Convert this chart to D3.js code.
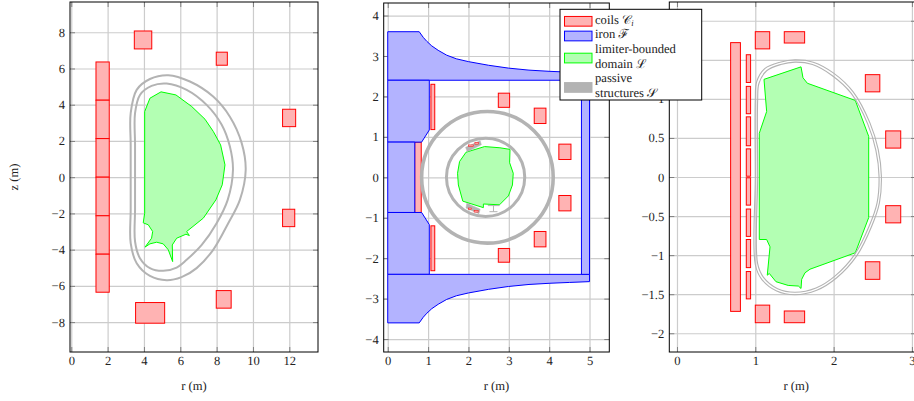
<!DOCTYPE html>
<html>
<head>
<meta charset="utf-8">
<script src="https://cdn.jsdelivr.net/npm/d3@7"></script>
<style>
  body { margin: 0; background: #fff; overflow: hidden; }
  svg { display: block; text-rendering: geometricPrecision; }
  svg text { font-family: "Liberation Serif", "Times New Roman", serif !important; fill: #222; }
</style>
</head>
<body>
<svg width="914" height="401"></svg>
<script>
// rectangles are [r1, r2, z1, z2], outlines are [r, z]

// ---- left panel
const coils1 = [
  [1.36, 2.09, 4.25, 6.36], [1.36, 2.09, 2.13, 4.25], [1.36, 2.09, 0, 2.13],
  [1.36, 2.09, -2.13, 0], [1.36, 2.09, -4.25, -2.13], [1.36, 2.09, -6.35, -4.25],
  [3.47, 4.43, 7.08, 8.07], [7.98, 8.59, 6.18, 6.9], [11.63, 12.35, 2.79, 3.75],
  [11.63, 12.3, -2.73, -1.77], [7.98, 8.8, -7.23, -6.26], [3.54, 5.14, -8.06, -6.92]
];
const vesselOuter1 = [
  [3.27, 0], [3.27, 1.8], [3.27, 3.53], [3.6, 4.82], [4.33, 5.42], [5.34, 5.63], [6.53, 5.28],
  [7.81, 4.45], [8.73, 3.34], [9.38, 1.88], [9.6, 0.4], [9.28, -1.25], [8.64, -2.54],
  [7.81, -4.01], [6.9, -5.02], [6.07, -5.52], [5.25, -5.69], [4.33, -5.45], [3.6, -4.75],
  [3.27, -3.64], [3.27, -1.8]
];
const vesselInner1 = [
  [3.51, 0], [3.51, 1.8], [3.51, 3.53], [3.78, 4.54], [4.42, 5.04], [5.25, 5.17], [6.35, 4.82],
  [7.45, 3.99], [8.28, 2.89], [8.73, 1.69], [8.9, 0.4], [8.61, -1.25], [8.0, -2.54],
  [7.18, -3.74], [6.35, -4.56], [5.8, -4.99], [5.06, -5.17], [4.33, -5.02], [3.78, -4.47],
  [3.51, -3.55], [3.51, -1.8]
];
const domain1 = [
  [4.04, 3.62], [4.33, 4.36], [4.94, 4.71], [5.76, 4.54], [6.63, 3.9], [7.36, 3.2], [7.82, 2.52],
  [8.22, 1.78], [8.46, 0.68], [8.31, -0.42], [7.96, -1.25], [7.27, -2.26], [6.35, -3.0],
  [6.5, -3.22], [6.31, -3.15], [5.8, -3.37], [5.56, -3.74], [5.58, -4.66], [5.34, -4.01],
  [5.06, -3.68], [4.7, -3.59], [4.33, -3.68], [4.06, -3.86], [4.42, -3.37], [4.48, -3.0],
  [4.24, -2.63], [3.96, -2.52], [4.04, -1.99]
];

// ---- middle panel
const coils2 = [
  [0.67, 0.83, -0.87, 0.87], [1.07, 1.165, 1.18, 2.3], [1.07, 1.165, -2.31, -1.2],
  [2.74, 3.02, 1.73, 2.08], [2.74, 3.02, -2.1, -1.76], [3.63, 3.92, 1.33, 1.71],
  [3.63, 3.92, -1.72, -1.34], [4.24, 4.54, 0.44, 0.82], [4.24, 4.54, -0.83, -0.45]
];
const ironTop = [
  [0, 2.4], [0, 3.6], [0.78, 3.6], [0.88, 3.46], [0.97, 3.36], [1.09, 3.25], [1.25, 3.14], [1.46, 3.02],
  [1.7, 2.93], [2.0, 2.86], [2.5, 2.77], [2.99, 2.7], [3.5, 2.65], [4.02, 2.62], [4.5, 2.6], [5, 2.58], [5, 2.4]
];
const ironBottom = [
  [0, -2.4], [0, -3.6], [0.78, -3.6], [0.88, -3.46], [0.97, -3.36], [1.09, -3.25], [1.25, -3.14], [1.46, -3.02],
  [1.7, -2.93], [2.0, -2.86], [2.5, -2.77], [2.99, -2.7], [3.5, -2.65], [4.02, -2.62], [4.5, -2.6], [5, -2.58], [5, -2.4]
];
const ironUpper = [[0, 2.4], [1.03, 2.4], [1.03, 1.17], [0.84, 0.87], [0, 0.87]];
const ironMiddle = [[0, 0.87], [0.67, 0.87], [0.67, -0.87], [0, -0.87]];
const ironLower = [[0, -2.4], [1.03, -2.4], [1.03, -1.17], [0.84, -0.87], [0, -0.87]];
const ironLimb = [[4.8, -2.4], [5, -2.4], [5, 2.4], [4.8, 2.4]];
const domain2 = [
  [1.94, 0.62], [2.4, 0.76], [2.78, 0.73], [3.03, 0.69], [3.02, 0.36], [3.11, 0.1], [3.09, -0.19],
  [2.99, -0.46], [2.77, -0.68], [2.37, -0.66], [2.37, -0.75], [1.86, -0.59], [1.75, -0.19],
  [1.73, 0.1], [1.78, 0.39]
];
// center r, center z, radius
const rings2 = [[2.47, 0, 1.63], [2.425, 0, 0.97]];
const blocks2 = [
  [[1.93, 0.74], [2.29, 0.905], [2.32, 0.806], [1.97, 0.63]],
  [[1.96, -0.64], [2.29, -0.79], [2.26, -0.9], [1.94, -0.76]]
];
const tinyCoils2 = [
  [2.0, 2.13, 0.76, 0.8], [2.16, 2.25, 0.82, 0.86],
  [2.0, 2.08, -0.8, -0.76], [2.14, 2.24, -0.86, -0.82]
];
const support2 = [[[2.48, -0.7], [2.77, -0.7]], [[2.62, -0.7], [2.62, -0.85]], [[2.52, -0.85], [2.72, -0.85]]];

// ---- right panel
const coils3 = [
  [0.685, 0.81, -1.72, 1.72],
  [0.885, 0.94, 1.21, 1.565], [0.885, 0.94, 0.81, 1.16], [0.885, 0.94, 0.4, 0.77], [0.885, 0.94, 0.01, 0.36],
  [0.885, 0.94, -0.36, -0.01], [0.885, 0.94, -0.76, -0.41], [0.885, 0.94, -1.16, -0.8], [0.885, 0.94, -1.56, -1.21],
  [1.0, 1.184, 1.64, 1.86], [1.0, 1.184, -1.865, -1.64], [1.37, 1.63, 1.715, 1.86], [1.37, 1.63, -1.865, -1.715],
  [2.405, 2.59, 1.09, 1.31], [2.405, 2.59, -1.31, -1.085], [2.665, 2.857, 0.37, 0.59], [2.665, 2.857, -0.587, -0.367]
];
const vesselOuter3 = [
  [1.0, 0], [1.0, 0.987], [1.018, 1.22], [1.124, 1.39], [1.315, 1.47], [1.507, 1.5], [1.74, 1.47],
  [2.0, 1.33], [2.25, 1.09], [2.465, 0.69], [2.57, 0.35], [2.61, 0.01], [2.585, -0.33], [2.486, -0.63],
  [2.295, -1.01], [2.04, -1.29], [1.785, -1.45], [1.507, -1.507], [1.273, -1.46], [1.082, -1.31], [1.0, -1.12]
];
const vesselInner3 = [
  [1.03, 0], [1.03, 0.98], [1.047, 1.2], [1.145, 1.36], [1.325, 1.44], [1.507, 1.47], [1.73, 1.44],
  [1.98, 1.3], [2.225, 1.07], [2.435, 0.68], [2.54, 0.34], [2.58, 0.01], [2.555, -0.33], [2.457, -0.62],
  [2.27, -0.99], [2.02, -1.265], [1.775, -1.42], [1.507, -1.475], [1.285, -1.43], [1.105, -1.285], [1.03, -1.11]
];
const domain3 = [
  [1.111, 1.25], [1.584, 1.41], [1.609, 1.27], [1.665, 1.2], [2.277, 0.98], [2.448, 0.52], [2.448, -0.52],
  [2.277, -0.97], [1.699, -1.18], [1.635, -1.226], [1.592, -1.31], [1.584, -1.427], [1.55, -1.396],
  [1.42, -1.388], [1.264, -1.34], [1.179, -1.235], [1.153, -1.257], [1.188, -0.894], [1.145, -0.8],
  [1.051, -0.8], [1.051, 0.56], [1.145, 0.838]
];

const rTicks1 = [0, 2, 4, 6, 8, 10, 12];
const zTicks1 = [-8, -6, -4, -2, 0, 2, 4, 6, 8];
const rTicks2 = [0, 1, 2, 3, 4, 5];
const zTicks2 = [-4, -3, -2, -1, 0, 1, 2, 3, 4];
const rTicks3 = [0, 1, 2, 3];
const zTicks3 = [-2, -1.5, -1, -0.5, 0, 0.5, 1, 1.5, 2];
// the legend covers the labels of 1.5 and 2 in the right panel
const zLabels3 = [-2, -1.5, -1, -0.5, 0, 0.5, 1];

const red = { fill: '#ffb3b3', stroke: '#ff0000' };
const blue = { fill: '#b3b3ff', stroke: '#0000ff' };
const green = { fill: '#b3ffb3', stroke: '#00ff00' };
const grey = '#b3b3b3';

const svg = d3.select('svg');
const fmt = d => String(d).replace('-', '\u2212');

function panel(o) {
  const x = d3.scaleLinear().domain(o.rDomain).range([o.left, o.right]);
  const y = d3.scaleLinear().domain(o.zDomain).range([o.bottom, o.top]);
  const g = svg.append('g');
  const w = o.right - o.left;
  const h = o.bottom - o.top;
  const path = d3.line().x(d => x(d[0])).y(d => y(d[1]));
  const smooth = d3.line().x(d => x(d[0])).y(d => y(d[1])).curve(d3.curveCatmullRomClosed.alpha(0.5));

  function axis(gen, tx, ty, size, color, sw) {
    const a = g.append('g')
      .attr('transform', `translate(${tx},${ty})`)
      .call(gen.tickSize(size).tickFormat(''));
    a.select('.domain').remove();
    a.selectAll('line').attr('stroke', color).attr('stroke-width', sw);
  }
  // grid
  axis(d3.axisBottom(x).tickValues(o.rTicks), 0, o.bottom, -h, '#cccccc', 1.2);
  axis(d3.axisLeft(y).tickValues(o.zTicks), o.left, 0, -w, '#cccccc', 1.2);
  // inner ticks on all four sides
  axis(d3.axisBottom(x).tickValues(o.rTicks), 0, o.bottom, -5, '#808080', 1);
  axis(d3.axisBottom(x).tickValues(o.rTicks), 0, o.top, 5, '#808080', 1);
  axis(d3.axisLeft(y).tickValues(o.zTicks), o.left, 0, -5, '#808080', 1);
  axis(d3.axisLeft(y).tickValues(o.zTicks), o.right, 0, 5, '#808080', 1);

  const rects = (data, st, sw) => g.append('g').selectAll('rect').data(data).join('rect')
    .attr('x', d => x(d[0])).attr('width', d => x(d[1]) - x(d[0]))
    .attr('y', d => y(d[3])).attr('height', d => y(d[2]) - y(d[3]))
    .attr('fill', st.fill).attr('stroke', st.stroke).attr('stroke-width', sw);

  const polys = (data, st, sw) => g.append('g').selectAll('path').data(data).join('path')
    .attr('d', d => path(d) + 'Z')
    .attr('fill', st.fill).attr('stroke', st.stroke).attr('stroke-width', sw)
    .attr('stroke-linejoin', 'round');

  rects(o.coils, red, 1);
  if (o.iron) polys(o.iron, blue, 1);
  polys([o.domain], green, 1);

  if (o.vessels) {
    g.append('g').selectAll('path').data(o.vessels).join('path')
      .attr('d', smooth).attr('fill', 'none')
      .attr('stroke', grey).attr('stroke-width', o.vesselWidth);
  }
  if (o.rings) {
    g.append('g').selectAll('circle').data(o.rings).join('circle')
      .attr('cx', d => x(d[0])).attr('cy', d => y(d[1]))
      .attr('r', d => x(d[0] + d[2]) - x(d[0]))
      .attr('fill', 'none').attr('stroke', grey)
      .attr('stroke-width', (d, i) => i === 0 ? 3.6 : 3);
    polys(o.blocks, { fill: grey, stroke: grey }, 0.5);
    rects(o.tiny, red, 0.5);
    g.append('g').selectAll('path').data(o.support).join('path')
      .attr('d', path).attr('fill', 'none').attr('stroke', grey).attr('stroke-width', 1);
  }

  // frame
  g.append('rect')
    .attr('x', o.left).attr('y', o.top).attr('width', w).attr('height', h)
    .attr('fill', 'none').attr('stroke', '#000').attr('stroke-width', 1);

  // tick labels
  const xl = g.append('g').attr('transform', `translate(0,${o.bottom})`)
    .call(d3.axisBottom(x).tickValues(o.rTicks).tickSize(0).tickPadding(4.5).tickFormat(fmt));
  const yl = g.append('g').attr('transform', `translate(${o.left},0)`)
    .call(d3.axisLeft(y).tickValues(o.zLabels || o.zTicks).tickSize(0).tickPadding(5).tickFormat(fmt));
  xl.select('.domain').remove();
  yl.select('.domain').remove();
  g.selectAll('.tick text').style('font-size', '12.6px');

  g.append('text')
    .attr('x', (o.left + Math.min(o.right, 914)) / 2 + (o.labelShift || 0)).attr('y', 390)
    .attr('text-anchor', 'middle').style('font-size', '12.6px').text('r (m)');
  if (o.zLabel) {
    g.append('text')
      .attr('transform', `translate(18,${(o.top + o.bottom) / 2}) rotate(-90)`)
      .attr('text-anchor', 'middle').style('font-size', '12.6px').text('z (m)');
  }
}

panel({
  left: 70, right: 318, top: 2, bottom: 352, rDomain: [-0.07, 13.58], zDomain: [-9.65, 9.67],
  rTicks: rTicks1, zTicks: zTicks1, coils: coils1, domain: domain1,
  vessels: [vesselOuter1, vesselInner1], vesselWidth: 2, zLabel: true
});
panel({
  left: 383.7, right: 609.3, top: 3, bottom: 352, rDomain: [-0.1, 5.49], zDomain: [-4.32, 4.31],
  rTicks: rTicks2, zTicks: zTicks2, coils: coils2,
  iron: [ironTop, ironUpper, ironMiddle, ironLower, ironBottom, ironLimb], domain: domain2,
  rings: rings2, blocks: blocks2, tiny: tinyCoils2, support: support2
});
panel({
  left: 669.3, right: 916, top: 2, bottom: 352, rDomain: [-0.098, 3.052], zDomain: [-2.24, 2.24],
  rTicks: rTicks3, zTicks: zTicks3, zLabels: zLabels3, coils: coils3, domain: domain3,
  vessels: [vesselOuter3, vesselInner3], vesselWidth: 1.1, labelShift: 4.5
});

// ---- legend
const legendRows = [
  { st: red, lines: ['coils \uD835\uDC9E'], sub: 'i' },
  { st: blue, lines: ['iron \u2131'] },
  { st: green, lines: ['limiter-bounded', 'domain \u2112'] },
  { st: { fill: grey, stroke: grey }, lines: ['passive', 'structures \uD835\uDCAE'] }
];
const legend = svg.append('g').attr('transform', 'translate(560,9.3)');
legend.append('rect').attr('width', 141.7).attr('height', 90.7)
  .attr('fill', '#fff').attr('stroke', '#000').attr('stroke-width', 1);
let rowY = 4.7;
legendRows.forEach(row => {
  const rowH = 14.7 * row.lines.length;
  legend.append('rect')
    .attr('x', 4.5).attr('y', rowY + rowH / 2 - 4.9).attr('width', 27.5).attr('height', 9.7)
    .attr('fill', row.st.fill).attr('stroke', row.st.stroke).attr('stroke-width', 1);
  row.lines.forEach((l, i) => {
    const t = legend.append('text').attr('x', 35).attr('y', rowY + 9.6 + i * 14.7)
      .style('font-size', '12.6px').text(l);
    if (row.sub) t.append('tspan').attr('font-style', 'italic').attr('dy', 2).style('font-size', '8.5px').text(row.sub);
  });
  rowY += rowH;
});
</script>
</body>
</html>
